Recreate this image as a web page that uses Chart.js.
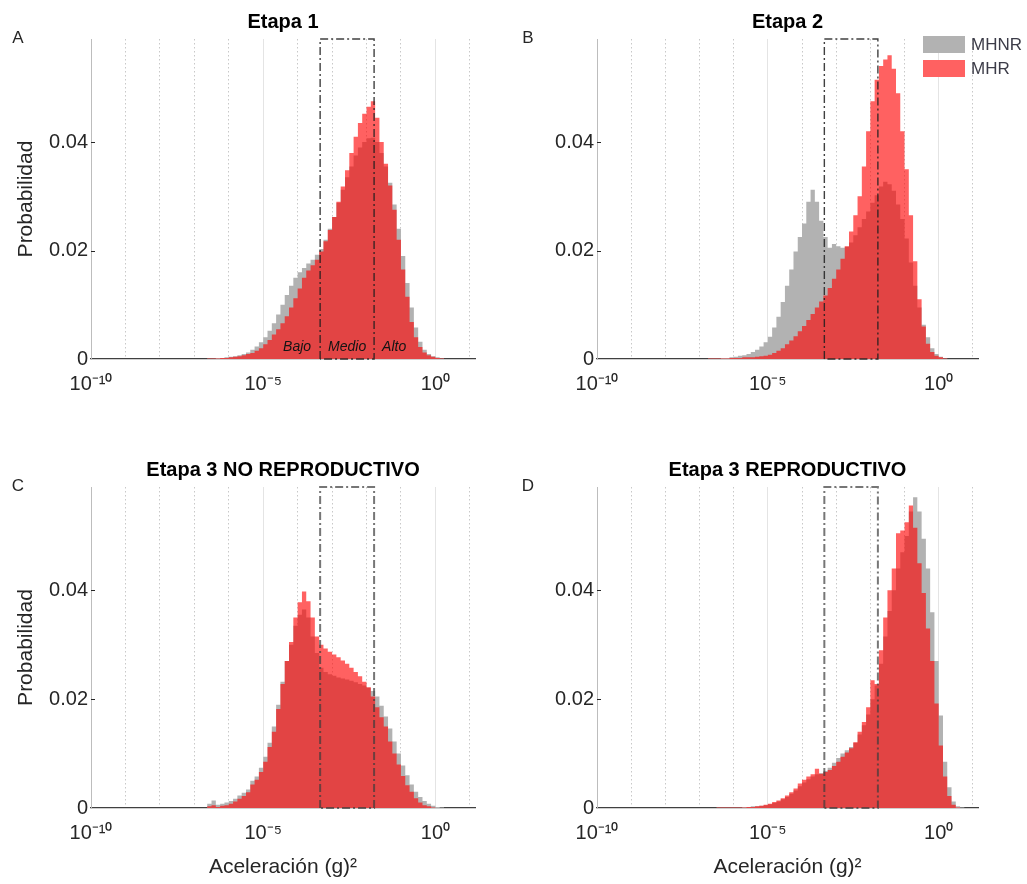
<!DOCTYPE html>
<html>
<head>
<meta charset="utf-8">
<script src="https://cdn.jsdelivr.net/npm/chart.js@4.4.1/dist/chart.umd.min.js"></script>
<style>
  body { margin: 0; background: #fff; width: 1027px; height: 884px; position: relative; overflow: hidden; }
  canvas { position: absolute; }
</style>
</head>
<body>
<canvas id="panelA" width="510" height="440" style="left:0;top:0;width:510px;height:440px"></canvas>
<canvas id="panelB" width="517" height="440" style="left:510px;top:0;width:517px;height:440px"></canvas>
<canvas id="panelC" width="510" height="444" style="left:0;top:440px;width:510px;height:444px"></canvas>
<canvas id="panelD" width="517" height="444" style="left:510px;top:440px;width:517px;height:444px"></canvas>
<script>
// histogram bins: log10 of the acceleration, first edge and width (decades)
const inicioLog = -7
const anchoBin = 0.125

// limits of the Bajo / Medio / Alto zones, (g)^2
const umbrales = [4.5e-4, 1.66e-2]
const zonas = ['Bajo', 'Medio', 'Alto']

const yTicks = [0, 0.02, 0.04]
const xDecadas = [-10, -9, -8, -7, -6, -5, -4, -3, -2, -1, 0, 1]
const xMayores = [-10, -5, 0]
const xEtiquetas = ['10⁻¹⁰', '10⁻⁵', '10⁰']
const series = ['MHNR', 'MHR']

// probabilities per bin
const etapa1_MHNR = [0, 0, 0, 0.0001, 0.0001, 0.0002, 0.0002, 0.0003, 0.0004, 0.0005,
  0.0007, 0.0009, 0.0012, 0.0017, 0.0023, 0.0031, 0.0040, 0.0052, 0.0066, 0.0082,
  0.0100, 0.0118, 0.0135, 0.0150, 0.0160, 0.0168, 0.0176, 0.0183, 0.0192, 0.0203,
  0.0220, 0.0240, 0.0262, 0.0288, 0.0312, 0.0335, 0.0355, 0.0375, 0.0390, 0.0400,
  0.0407, 0.0408, 0.0400, 0.0380, 0.0355, 0.0325, 0.0285, 0.0240, 0.0190, 0.0140,
  0.0095, 0.0058, 0.0032, 0.0017, 0.0009, 0.0005, 0.0003, 0.0001, 0, 0, 0, 0, 0, 0]
const etapa1_MHR = [0, 0, 0, 0.0001, 0.0001, 0.0001, 0.0002, 0.0002, 0.0003, 0.0004,
  0.0005, 0.0007, 0.0009, 0.0011, 0.0015, 0.0020, 0.0027, 0.0035, 0.0045, 0.0055,
  0.0066, 0.0079, 0.0095, 0.0112, 0.0130, 0.0150, 0.0163, 0.0173, 0.0183, 0.0198,
  0.0217, 0.0238, 0.0262, 0.0290, 0.0318, 0.0348, 0.0380, 0.0410, 0.0435, 0.0452,
  0.0465, 0.0475, 0.0445, 0.0400, 0.0360, 0.0320, 0.0275, 0.0220, 0.0165, 0.0115,
  0.0068, 0.0040, 0.0022, 0.0012, 0.0007, 0.0004, 0.0002, 0.0001, 0, 0, 0, 0, 0, 0]

const etapa2_MHNR = [0, 0, 0.0001, 0.0001, 0.0001, 0.0002, 0.0002, 0.0003, 0.0004, 0.0006,
  0.0007, 0.0009, 0.0013, 0.0017, 0.0023, 0.0031, 0.0041, 0.0058, 0.0078, 0.0105,
  0.0135, 0.0165, 0.0198, 0.0225, 0.0250, 0.0290, 0.0312, 0.0290, 0.0255, 0.0225,
  0.0205, 0.0212, 0.0208, 0.0205, 0.0207, 0.0215, 0.0228, 0.0243, 0.0258, 0.0272,
  0.0288, 0.0302, 0.0318, 0.0327, 0.0322, 0.0310, 0.0285, 0.0258, 0.0222, 0.0178,
  0.0135, 0.0095, 0.0063, 0.0040, 0.0020, 0.0009, 0.0004, 0.0001, 0, 0, 0, 0, 0, 0]
const etapa2_MHR = [0, 0, 0.0001, 0.0001, 0.0001, 0.0001, 0.0001, 0.0002, 0.0002, 0.0002,
  0.0003, 0.0003, 0.0003, 0.0004, 0.0005, 0.0006, 0.0008, 0.0011, 0.0015, 0.0020,
  0.0027, 0.0034, 0.0042, 0.0051, 0.0061, 0.0072, 0.0083, 0.0095, 0.0106, 0.0117,
  0.0131, 0.0148, 0.0165, 0.0185, 0.0208, 0.0235, 0.0265, 0.0300, 0.0355, 0.0420,
  0.0475, 0.0515, 0.0540, 0.0552, 0.0560, 0.0535, 0.0490, 0.0420, 0.0350, 0.0265,
  0.0180, 0.0110, 0.0060, 0.0028, 0.0013, 0.0006, 0.0003, 0.0001, 0, 0, 0, 0, 0, 0]

const etapa3NR_MHNR = [0, 0, 0, 0.0008, 0.0014, 0.0006, 0.0008, 0.0010, 0.0013, 0.0017,
  0.0023, 0.0028, 0.0034, 0.0050, 0.0058, 0.0074, 0.0094, 0.0120, 0.0150, 0.0190,
  0.0232, 0.0270, 0.0300, 0.0335, 0.0355, 0.0365, 0.0350, 0.0315, 0.0285, 0.0258,
  0.0250, 0.0246, 0.0243, 0.0240, 0.0238, 0.0236, 0.0234, 0.0231, 0.0228, 0.0225,
  0.0221, 0.0215, 0.0205, 0.0188, 0.0168, 0.0146, 0.0122, 0.0100, 0.0078, 0.0060,
  0.0043, 0.0030, 0.0020, 0.0013, 0.0008, 0.0004, 0.0002, 0.0001, 0, 0, 0, 0, 0, 0]
const etapa3NR_MHR = [0, 0, 0, 0.0003, 0.0005, 0.0002, 0.0004, 0.0005, 0.0008, 0.0012,
  0.0017, 0.0022, 0.0029, 0.0043, 0.0052, 0.0066, 0.0085, 0.0112, 0.0140, 0.0182,
  0.0228, 0.0270, 0.0305, 0.0350, 0.0378, 0.0398, 0.0380, 0.0350, 0.0315, 0.0300,
  0.0293, 0.0287, 0.0282, 0.0277, 0.0271, 0.0265, 0.0258, 0.0250, 0.0242, 0.0232,
  0.0222, 0.0205, 0.0185, 0.0167, 0.0150, 0.0122, 0.0100, 0.0080, 0.0059, 0.0042,
  0.0030, 0.0018, 0.0010, 0.0005, 0.0003, 0.0001, 0, 0, 0, 0, 0, 0, 0, 0]

const etapa3R_MHNR = [0, 0, 0, 0, 0.0001, 0.0001, 0.0001, 0.0001, 0.0001, 0.0001,
  0.0002, 0.0002, 0.0003, 0.0003, 0.0004, 0.0005, 0.0007, 0.0009, 0.0012, 0.0016,
  0.0020, 0.0026, 0.0032, 0.0040, 0.0047, 0.0053, 0.0058, 0.0062, 0.0064, 0.0068,
  0.0074, 0.0083, 0.0092, 0.0100, 0.0106, 0.0112, 0.0120, 0.0135, 0.0152, 0.0172,
  0.0200, 0.0225, 0.0265, 0.0315, 0.0362, 0.0400, 0.0440, 0.0470, 0.0500, 0.0545,
  0.0571, 0.0545, 0.0495, 0.0440, 0.0360, 0.0270, 0.0170, 0.0085, 0.0038, 0.0012,
  0.0003, 0.0001, 0, 0]
const etapa3R_MHR = [0, 0, 0, 0, 0.0001, 0.0001, 0.0001, 0.0001, 0.0001, 0.0001,
  0.0001, 0.0002, 0.0002, 0.0003, 0.0004, 0.0006, 0.0008, 0.0011, 0.0014, 0.0018,
  0.0023, 0.0029, 0.0036, 0.0045, 0.0052, 0.0058, 0.0062, 0.0072, 0.0063, 0.0066,
  0.0070, 0.0077, 0.0085, 0.0094, 0.0102, 0.0110, 0.0121, 0.0140, 0.0158, 0.0185,
  0.0235, 0.0228, 0.0290, 0.0350, 0.0400, 0.0440, 0.0505, 0.0510, 0.0525, 0.0556,
  0.0515, 0.0450, 0.0395, 0.0330, 0.0270, 0.0192, 0.0115, 0.0058, 0.0022, 0.0006,
  0.0001, 0, 0, 0]

const fuente = "'Liberation Sans', Arial, Helvetica, sans-serif"
const yMax = 0.059

function escalones(valores){
    // one point per bin edge, stepped line keeps the value until the next edge
    let pts = valores.map((v, i) => ({x: Math.pow(10, inicioLog + i * anchoBin), y: v}))
    pts.push({x: Math.pow(10, inicioLog + valores.length * anchoBin), y: 0})
    return pts
}

const decoracion = {
    id: 'decoracion',
    afterDraw(chart, args, opts){
        let ctx = chart.ctx
        let ca = chart.chartArea
        let x = chart.scales.x
        let y = chart.scales.y
        ctx.save()
        ctx.textAlign = 'center'
        ctx.textBaseline = 'middle'
        ctx.fillStyle = '#000'
        ctx.font = 'bold 20px ' + fuente
        ctx.fillText(opts.titulo, (ca.left + ca.right) / 2, ca.top - 17)
        ctx.fillStyle = '#262626'
        ctx.font = '17px ' + fuente
        ctx.fillText(opts.letra, 18, ca.top - 1)

        // small inside tick marks on the y axis
        ctx.strokeStyle = '#262626'
        ctx.lineWidth = 1
        y.ticks.forEach(t => {
            if (t.value === 0) return
            let py = Math.round(y.getPixelForValue(t.value)) + 0.5
            ctx.beginPath()
            ctx.moveTo(ca.left, py)
            ctx.lineTo(ca.left + 4, py)
            ctx.stroke()
        })

        if (opts.zonas){
            let x0 = x.getPixelForValue(umbrales[0])
            let x1 = x.getPixelForValue(umbrales[1])
            let py = ca.bottom - 12
            ctx.fillStyle = '#141414'
            ctx.font = 'italic 14px ' + fuente
            ctx.textAlign = 'right'
            ctx.fillText(zonas[0], x0 - 9, py)
            ctx.textAlign = 'center'
            ctx.fillText(zonas[1], (x0 + x1) / 2, py)
            ctx.textAlign = 'left'
            ctx.fillText(zonas[2], x1 + 8, py)
        }

        if (opts.leyenda){
            let sets = chart.data.datasets
            ctx.font = '17px ' + fuente
            ctx.textAlign = 'left'
            for (let i = 0; i < 2; i++){
                let top = ca.top - 3 + i * 24
                ctx.fillStyle = '#fff'
                ctx.fillRect(ca.right - 55, top, 42, 17)
                ctx.fillStyle = sets[i].backgroundColor
                ctx.fillRect(ca.right - 55, top, 42, 17)
                ctx.fillStyle = '#3c3c48'
                ctx.fillText(sets[i].label, ca.right - 7, top + 9)
            }
        }
        ctx.restore()
    }
}

function crear_panel(id, cfg){
    let datasets = [
        {
            label: series[0],
            data: escalones(cfg.mhnr),
            stepped: true,
            fill: 'origin',
            backgroundColor: 'rgb(178, 178, 178)',
            borderColor: 'transparent',
            borderWidth: 0,
            pointRadius: 0,
            order: 2
        },
        {
            label: series[1],
            data: escalones(cfg.mhr),
            stepped: true,
            fill: 'origin',
            backgroundColor: 'rgba(255, 0, 0, 0.62)',
            borderColor: 'transparent',
            borderWidth: 0,
            pointRadius: 0,
            order: 1
        },
        {
            label: 'zonas',
            data: [
                {x: umbrales[0], y: 0}, {x: umbrales[0], y: yMax},
                {x: umbrales[1], y: yMax}, {x: umbrales[1], y: 0}, {x: umbrales[0], y: 0}
            ],
            stepped: false,
            fill: false,
            borderColor: cfg.colorZona,
            borderWidth: cfg.anchoZona,
            borderDash: [8, 3, 2, 3],
            pointRadius: 0,
            clip: false,
            order: 0
        }
    ]

    new Chart(document.getElementById(id), {
        type: 'line',
        data: { datasets: datasets },
        options: {
            responsive: false,
            animation: false,
            devicePixelRatio: 1,
            events: [],
            layout: { padding: cfg.padding },
            plugins: {
                legend: { display: false },
                tooltip: { enabled: false },
                decoracion: { titulo: cfg.titulo, letra: cfg.letra, zonas: cfg.zonas, leyenda: cfg.leyenda }
            },
            scales: {
                x: {
                    type: 'logarithmic',
                    min: 1e-10,
                    max: Math.pow(10, 1.15),
                    afterBuildTicks: s => { s.ticks = xDecadas.map(e => ({value: Math.pow(10, e)})) },
                    afterFit: s => { s.height = cfg.altoX },
                    ticks: {
                        autoSkip: false,
                        maxRotation: 0,
                        padding: 13,
                        color: '#262626',
                        font: { family: fuente, size: 20 },
                        callback: v => {
                            let k = xMayores.indexOf(Math.round(Math.log10(v)))
                            return k >= 0 ? xEtiquetas[k] : ''
                        }
                    },
                    grid: {
                        drawTicks: false,
                        lineWidth: 1,
                        color: c => {
                            if (!c.tick) return '#d0d0d0'
                            let e = Math.round(Math.log10(c.tick.value))
                            return xMayores.includes(e) ? '#e4e4e4' : '#c8c8c8'
                        }
                    },
                    border: {
                        color: '#404040',
                        width: 1.2,
                        dash: c => {
                            if (!c.tick) return []
                            let e = Math.round(Math.log10(c.tick.value))
                            return xMayores.includes(e) ? [] : [1.5, 2.5]
                        }
                    },
                    title: {
                        display: cfg.tituloX,
                        text: 'Aceleración (g)²',
                        color: '#262626',
                        font: { family: fuente, size: 21 },
                        padding: { top: 0, bottom: 0 }
                    }
                },
                y: {
                    type: 'linear',
                    min: 0,
                    max: yMax,
                    afterBuildTicks: s => { s.ticks = yTicks.map(v => ({value: v})) },
                    afterFit: s => { s.width = cfg.anchoY },
                    ticks: {
                        padding: 3,
                        color: '#262626',
                        font: { family: fuente, size: 20 },
                        callback: v => v === 0 ? '0' : String(v)
                    },
                    grid: { display: true, drawOnChartArea: false, drawTicks: false },
                    border: { color: '#bdbdbd', width: 1 },
                    title: {
                        display: cfg.tituloY,
                        text: 'Probabilidad',
                        color: '#262626',
                        font: { family: fuente, size: 21 },
                        padding: { top: 14, bottom: 0 }
                    }
                }
            }
        },
        plugins: [decoracion]
    })
}

crear_panel('panelA', {
    titulo: 'Etapa 1', letra: 'A', mhnr: etapa1_MHNR, mhr: etapa1_MHR,
    zonas: true, leyenda: false, tituloX: false, tituloY: true,
    colorZona: 'rgba(30, 30, 30, 0.85)', anchoZona: 1.4,
    anchoY: 91, altoX: 60, padding: { left: 0, top: 39, right: 35, bottom: 21 }
})
crear_panel('panelB', {
    titulo: 'Etapa 2', letra: 'B', mhnr: etapa2_MHNR, mhr: etapa2_MHR,
    zonas: false, leyenda: true, tituloX: false, tituloY: false,
    colorZona: 'rgba(30, 30, 30, 0.85)', anchoZona: 1.4,
    anchoY: 87, altoX: 60, padding: { left: 0, top: 39, right: 49, bottom: 21 }
})
crear_panel('panelC', {
    titulo: 'Etapa 3 NO REPRODUCTIVO', letra: 'C', mhnr: etapa3NR_MHNR, mhr: etapa3NR_MHR,
    zonas: false, leyenda: false, tituloX: true, tituloY: true,
    colorZona: 'rgba(60, 60, 60, 0.7)', anchoZona: 2,
    anchoY: 91, altoX: 72, padding: { left: 0, top: 47, right: 35, bottom: 4 }
})
crear_panel('panelD', {
    titulo: 'Etapa 3 REPRODUCTIVO', letra: 'D', mhnr: etapa3R_MHNR, mhr: etapa3R_MHR,
    zonas: false, leyenda: false, tituloX: true, tituloY: false,
    colorZona: 'rgba(60, 60, 60, 0.7)', anchoZona: 2,
    anchoY: 87, altoX: 72, padding: { left: 0, top: 47, right: 49, bottom: 4 }
})
</script>
</body>
</html>
